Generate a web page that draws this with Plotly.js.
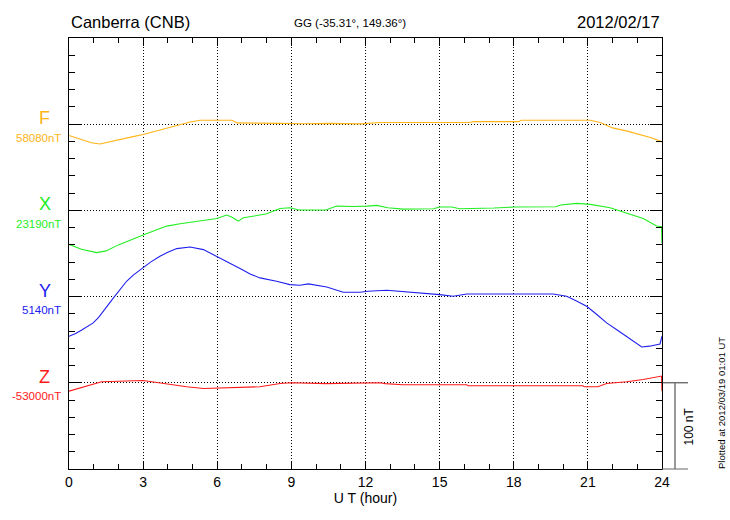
<!DOCTYPE html>
<html>
<head>
<meta charset="utf-8">
<script src="https://cdn.plot.ly/plotly-3.0.1.min.js"></script>
<style>
  html, body { margin: 0; padding: 0; background: #fff; }
  #chart { width: 730px; height: 520px; }
</style>
</head>
<body>
<div id="chart"></div>
<script>
// ---- Data (deviation from each component's baseline, nT) ----
const componentNames = ['F', 'X', 'Y', 'Z'];
const baselineLabels = ['58080nT', '23190nT', '5140nT', '-53000nT'];
const componentColors = ['#FFB417', '#22EE22', '#2020EE', '#FF1A1A'];
const componentOffsets = [400, 300, 200, 100];

const fHours = [0, 0.5, 0.9, 1.25, 1.6, 2, 2.5, 3, 3.4, 3.8, 4.2, 4.5, 4.9, 5.3, 6, 6.6, 6.8, 7.5, 8.5, 9.5, 10.5, 11.8, 12.6, 13.7, 14, 16.2, 16.4, 18.2, 18.3, 21.1, 21.5, 22, 22.6, 23.1, 23.6, 24];
const fDev   = [-13, -18, -21.5, -23, -21, -18, -15, -12, -9, -6, -2.5, 0, 2.5, 4.6, 4.6, 4.6, 1.5, 1.5, 1, 0.5, 1, 0.4, 2, 2, 2, 2, 3, 3, 4.6, 4.6, 2, -4.3, -8, -12, -16, -20.5];

const xHours = [0, 0.5, 1.12, 1.5, 2, 2.5, 3, 3.5, 3.95, 4.5, 5.03, 5.98, 6.38, 6.6, 6.85, 7.06, 7.5, 8.0, 8.54, 8.94, 9.3, 10.4, 10.83, 11.5, 12.05, 12.45, 12.9, 13.53, 14.75, 15.0, 15.5, 15.8, 17.2, 18, 19.7, 19.9, 20.55, 21.1, 21.9, 22.57, 23.24, 23.78, 23.98, 24];
const xDev   = [-39.4, -45, -49, -47, -40, -34, -28.6, -23, -18.2, -15.5, -13.5, -9.3, -5.4, -8, -12.4, -8.5, -6.5, -3.9, 2.3, 3.1, 0.4, 0.4, 5, 4.5, 5, 5.8, 3.1, 1.5, 2, 3.9, 3.9, 1.9, 2.7, 3.9, 4.3, 6.2, 8.1, 7, 3.1, -2.7, -9.3, -18.2, -19, -38];

const yHours = [0, 0.25, 0.5, 0.75, 0.98, 1.2, 1.4, 1.6, 1.8, 2.0, 2.33, 2.6, 3.0, 3.3, 3.68, 4.0, 4.36, 4.9, 5.44, 5.98, 6.3, 6.65, 7.0, 7.33, 7.73, 8.4, 8.94, 9.35, 9.69, 10.43, 10.8, 11.1, 11.78, 12.1, 12.86, 13.8, 15.0, 15.55, 16.1, 19.6, 20.14, 20.5, 20.95, 21.35, 21.76, 22.2, 22.57, 22.9, 23.18, 23.5, 23.92, 24];
const yDev   = [-46, -43, -39, -35, -30.5, -24, -17, -9, -1.5, 6, 17.8, 25, 33.3, 40, 46.8, 51.5, 55.7, 57.6, 54.5, 46.8, 42, 37.1, 31.5, 26.3, 21.7, 17.8, 13.9, 13.1, 14.7, 11.2, 8, 5, 5, 6.2, 7.3, 5.4, 2.3, 0.4, 3.1, 3.1, 0.4, -4.5, -11.2, -20.5, -30.5, -39, -46, -52.5, -58.4, -57.5, -54.9, -46];

const zHours = [0, 0.72, 1.32, 3.0, 3.41, 4.09, 4.76, 5.44, 6.65, 7.73, 8.54, 9.0, 10.4, 11.8, 12.6, 12.8, 13.5, 16.1, 16.15, 20.8, 20.85, 21.4, 21.76, 22.57, 23.24, 23.98, 24];
const zDev   = [-9.7, -3.9, 1.2, 2.7, 0.8, -1.9, -4.6, -6.6, -5.8, -4.6, -0.8, 0, -1, 0, 0, -1, -2.3, -2.3, -3.5, -3.5, -4.6, -4.6, -0.8, 1.2, 3.9, 7.8, -9.7];

const xTickVals = [0, 3, 6, 9, 12, 15, 18, 21, 24];
const xTickText = ['0', '3', '6', '9', '12', '15', '18', '21', '24'];
const yRangeNT = 500;
const scaleBarNT = 100;

const stationTitle = 'Canberra (CNB)';
const coordTitle = 'GG (-35.31°, 149.36°)';
const dateTitle = '2012/02/17';
const plottedNote = 'Plotted at 2012/03/19 01:01 UT';
const xAxisTitle = 'U T (hour)';

// ---- Build ----
const hoursList = [fHours, xHours, yHours, zHours];
const devList = [fDev, xDev, yDev, zDev];

const traces = componentNames.map((n, i) => ({
  type: 'scatter', mode: 'lines', name: n,
  x: hoursList[i],
  y: devList[i].map(v => componentOffsets[i] + v),
  line: { color: componentColors[i], width: 1.1 },
  hoverinfo: 'skip'
}));

const L = 69, R = 662, T = 38, B = 469;
const px = x => (x - L) / (R - L);
const py = y => (B - y) / (B - T);
const font = 'Liberation Sans, Arial, Helvetica, sans-serif';

const annotations = [
  { text: stationTitle, x: px(69), y: py(22), xanchor: 'left', yanchor: 'middle', font: { size: 16.5, color: '#000' } },
  { text: coordTitle, x: px(350), y: py(23), xanchor: 'center', yanchor: 'middle', font: { size: 11.5, color: '#000' } },
  { text: dateTitle, x: px(662), y: py(22), xanchor: 'right', yanchor: 'middle', font: { size: 16.5, color: '#000' } },
  { text: plottedNote, x: px(721), y: py(403), textangle: -90, xanchor: 'center', yanchor: 'middle', font: { size: 9.5, color: '#000' } },
  { text: scaleBarNT + ' nT', x: px(688.5), y: py(427), textangle: -90, xanchor: 'center', yanchor: 'middle', font: { size: 12, color: '#000' } }
];
componentNames.forEach((n, i) => {
  const baseY = componentOffsets[i] / yRangeNT;
  annotations.push({ text: n, x: px(44.5), y: baseY + (124 - 118) / (B - T), xanchor: 'center', yanchor: 'middle', font: { size: 18, color: componentColors[i] } });
  annotations.push({ text: baselineLabels[i], x: px(62.5), y: baseY - (137.5 - 124) / (B - T), xanchor: 'right', yanchor: 'middle', font: { size: 11.5, color: componentColors[i] } });
});
annotations.forEach(a => { a.xref = 'paper'; a.yref = 'paper'; a.showarrow = false; a.font.family = font; });

const zBase = componentOffsets[3] / yRangeNT;
const shapes = [
  { type: 'line', xref: 'paper', yref: 'paper', x0: 1, x1: px(688), y0: zBase, y1: zBase, line: { color: '#333', width: 1 } },
  { type: 'line', xref: 'paper', yref: 'paper', x0: 1, x1: px(688), y0: 0, y1: 0, line: { color: '#666', width: 1 } },
  { type: 'line', xref: 'paper', yref: 'paper', x0: px(675), x1: px(675), y0: 0, y1: scaleBarNT / yRangeNT, line: { color: '#777', width: 1.5 } }
];

const layout = {
  width: 730, height: 520,
  margin: { l: L, r: 730 - R, t: T, b: 520 - B, pad: 0 },
  paper_bgcolor: '#fff', plot_bgcolor: '#fff',
  showlegend: false,
  font: { family: font, color: '#000' },
  xaxis: {
    range: [0, 24], tickvals: xTickVals, ticktext: xTickText,
    ticks: 'inside', ticklen: 8, tickwidth: 1, tickcolor: '#000',
    showline: true, linecolor: '#000', linewidth: 1, mirror: 'allticks',
    showgrid: true, gridcolor: '#000', gridwidth: 1, griddash: '1px,2px',
    zeroline: false,
    tickfont: { size: 14, color: '#000', family: font },
    minor: { dtick: 1, ticks: 'inside', ticklen: 5, tickcolor: '#000', showgrid: false },
    title: { text: xAxisTitle, font: { size: 14, color: '#000', family: font }, standoff: 2 }
  },
  yaxis: {
    range: [0, yRangeNT], dtick: 100, tick0: 0,
    ticks: 'inside', ticklen: 12, tickwidth: 1, tickcolor: '#000',
    showticklabels: false,
    showline: true, linecolor: '#000', linewidth: 1, mirror: 'allticks',
    showgrid: true, gridcolor: '#000', gridwidth: 1, griddash: '1px,2px',
    zeroline: false,
    minor: { dtick: 20, ticks: 'inside', ticklen: 6, tickcolor: '#000', showgrid: false }
  },
  annotations: annotations,
  shapes: shapes
};

Plotly.newPlot('chart', traces, layout, { displayModeBar: false, staticPlot: true });
</script>
</body>
</html>
